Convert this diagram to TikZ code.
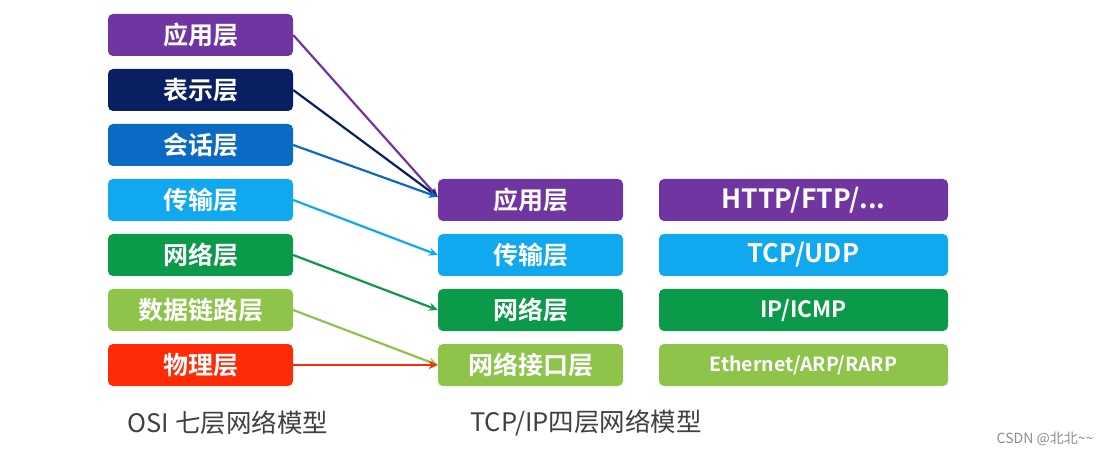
\documentclass[tikz,border=0pt]{standalone}
\usepackage{fontspec}
\setmainfont{Noto Sans CJK SC}[BoldFont={Noto Sans CJK SC Bold}]
\usepackage{tikz}
\usetikzlibrary{arrows.meta}

\definecolor{layerpurple}{HTML}{7135A2}
\definecolor{layernavy}{HTML}{0A1F62}
\definecolor{layerblue}{HTML}{0A6AC4}
\definecolor{layersky}{HTML}{10A8EE}
\definecolor{layergreen}{HTML}{0B9A4A}
\definecolor{layerlime}{HTML}{8DC449}
\definecolor{layerred}{HTML}{FF2A06}

\begin{document}
\begin{tikzpicture}[
    x=1pt, y=-1pt,
    layer/.style={rectangle, rounded corners=5pt, inner sep=0pt,
                minimum width=185pt, minimum height=42pt, text=white,
                font=\bfseries\fontsize{25}{25}\selectfont},
    proto/.style={layer, minimum width=289pt},
    link/.style={-{Stealth[length=9pt, width=8pt]}, line width=2.2pt},
    caption/.style={text=black!75, font=\fontsize{25.5}{25.5}\selectfont}
]
    \useasboundingbox (0,0) rectangle (1108,454);

    % OSI seven layers
    \node[layer, fill=layerpurple] (osiapp) at (200.5, 35) {应用层};
    \node[layer, fill=layernavy] (osipres) at (200.5, 90) {表示层};
    \node[layer, fill=layerblue] (osisess) at (200.5, 145) {会话层};
    \node[layer, fill=layersky] (ositrans) at (200.5, 200) {传输层};
    \node[layer, fill=layergreen] (osinet) at (200.5, 255) {网络层};
    \node[layer, fill=layerlime] (osilink) at (200.5, 310) {数据链路层};
    \node[layer, fill=layerred] (osiphys) at (200.5, 365) {物理层};

    % TCP/IP four layers
    \node[layer, fill=layerpurple] (tcpapp) at (530.5, 200) {应用层};
    \node[layer, fill=layersky] (tcptrans) at (530.5, 255) {传输层};
    \node[layer, fill=layergreen] (tcpnet) at (530.5, 310) {网络层};
    \node[layer, fill=layerlime] (tcplink) at (530.5, 365) {网络接口层};

    % Protocols
    \node[proto, fill=layerpurple, font=\bfseries\fontsize{26.5}{26.5}\selectfont] (protoapp) at (803.5, 200) {HTTP/FTP/...};
    \node[proto, fill=layersky, font=\bfseries\fontsize{25.5}{25.5}\selectfont] (prototrans) at (803.5, 255) {TCP/UDP};
    \node[proto, fill=layergreen, font=\bfseries\fontsize{22.5}{22.5}\selectfont] (protonet) at (803.5, 310) {IP/ICMP};
    \node[proto, fill=layerlime, font=\bfseries\fontsize{19.5}{19.5}\selectfont] (protolink) at (803.5, 365) {Ethernet/ARP/RARP};

    % Mapping
    \draw[link, layerpurple] (osiapp.east) -- ([yshift=3pt]tcpapp.west);
    \draw[link, layernavy] (osipres.east) -- ([yshift=3pt]tcpapp.west);
    \draw[link, layerblue] (osisess.east) -- ([yshift=3pt]tcpapp.west);
    \draw[link, layersky] (ositrans.east) -- (tcptrans.west);
    \draw[link, layergreen] (osinet.east) -- (tcpnet.west);
    \draw[link, layerlime] (osilink.east) -- (tcplink.west);
    \draw[link, layerred] (osiphys.east) -- (tcplink.west);

    % Captions
    \node[caption] (osicap) at (228, 423) {OSI 七层网络模型};
    \node[caption] (tcpcap) at (586, 423) {TCP/IP四层网络模型};
    \node[text=black!45, font=\fontsize{14}{14}\selectfont] (mark) at (1045, 439) {CSDN @北北\textasciitilde\textasciitilde};
\end{tikzpicture}
\end{document}
